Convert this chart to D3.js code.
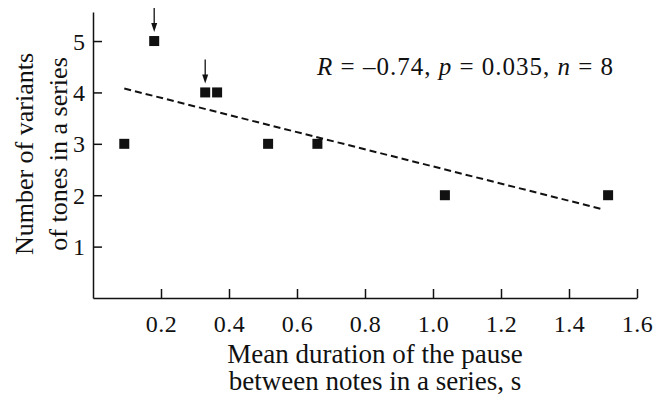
<!DOCTYPE html>
<html>
<head>
<meta charset="utf-8">
<script src="https://cdn.jsdelivr.net/npm/d3@7"></script>
<style>
  body { margin: 0; background: #fff; }
  svg text { font-family: "Liberation Serif", "Times New Roman", serif !important; fill: #111; }
</style>
</head>
<body>
<script>
// pause duration (s) vs number of tone variants
var pauseDur = [0.092, 0.18, 0.33, 0.365, 0.515, 0.66, 1.035, 1.515];
var toneVariants = [3, 5, 4, 4, 3, 3, 2, 2];
var xTicks = [0.2, 0.4, 0.6, 0.8, 1.0, 1.2, 1.4, 1.6];
var yTicks = [1, 2, 3, 4, 5];
var arrowIdx = [1, 2]; // points marked with arrows

var width = 661, height = 401;
var serif = "'Liberation Serif', 'Times New Roman', serif";

var svg = d3.select("body").append("svg")
    .attr("width", width)
    .attr("height", height)
    .attr("font-family", serif);

var x = d3.scaleLinear().domain([0, 1.6]).range([93, 637]);
var y = d3.scaleLinear().domain([0, 5.565]).range([298, 12]);

// axes
var xAxis = svg.append("g")
    .attr("transform", "translate(0," + y(0) + ")")
    .call(d3.axisBottom(x).tickValues(xTicks).tickSize(-9).tickSizeOuter(0)
        .tickFormat(d3.format(".1f")));
xAxis.attr("font-family", serif).attr("font-size", 24);
xAxis.selectAll("text")
    .attr("y", 34).attr("dy", 0)
    .attr("letter-spacing", "0.5px");

var yAxis = svg.append("g")
    .attr("transform", "translate(" + x(0) + ",0)")
    .call(d3.axisLeft(y).tickValues(yTicks).tickSize(-9).tickSizeOuter(0)
        .tickFormat(d3.format("d")));
yAxis.attr("font-family", serif).attr("font-size", 24);
yAxis.selectAll("text")
    .attr("x", -8).attr("dy", "0.34em");

svg.selectAll(".domain, .tick line")
    .attr("stroke", "#111")
    .attr("stroke-width", 1.5);
svg.selectAll(".tick text").attr("fill", "#111");

// least squares line over data range
var mx = d3.mean(pauseDur), my = d3.mean(toneVariants);
var sxy = d3.sum(pauseDur, function(d, i) { return (d - mx) * (toneVariants[i] - my); });
var sxx = d3.sum(pauseDur, function(d) { return (d - mx) * (d - mx); });
var slope = sxy / sxx, icpt = my - slope * mx;
var xr = d3.extent(pauseDur);

svg.append("line")
    .attr("x1", x(xr[0])).attr("y1", y(icpt + slope * xr[0]))
    .attr("x2", x(xr[1] - 0.012)).attr("y2", y(icpt + slope * (xr[1] - 0.012)))
    .attr("stroke", "#111")
    .attr("stroke-width", 2)
    .attr("stroke-dasharray", "7,4");

// points
var sq = 10;
svg.selectAll("rect.pt")
    .data(pauseDur)
    .enter()
    .append("rect")
    .attr("class", "pt")
    .attr("x", function(d) { return x(d) - sq / 2; })
    .attr("y", function(d, i) { return y(toneVariants[i]) - sq / 2; })
    .attr("width", sq)
    .attr("height", sq)
    .attr("fill", "#111");

// arrows
var arr = svg.selectAll("g.arrow")
    .data(arrowIdx)
    .enter()
    .append("g")
    .attr("class", "arrow")
    .attr("transform", function(i) {
        return "translate(" + x(pauseDur[i]) + "," + (y(toneVariants[i]) - sq / 2 - 4) + ")";
    });
arr.append("line")
    .attr("x1", 0).attr("x2", 0)
    .attr("y1", -24).attr("y2", -6)
    .attr("stroke", "#111")
    .attr("stroke-width", 1.3);
arr.append("path")
    .attr("d", "M0,0 L-3,-9 L3,-9 Z")
    .attr("fill", "#111");

// annotation
var ann = svg.append("text")
    .attr("x", 317).attr("y", 75)
    .attr("font-size", 25)
    .attr("letter-spacing", "1px");
ann.append("tspan").attr("font-style", "italic").text("R");
ann.append("tspan").text(" = –0.74, ");
ann.append("tspan").attr("font-style", "italic").text("p");
ann.append("tspan").text(" = 0.035, ");
ann.append("tspan").attr("font-style", "italic").text("n");
ann.append("tspan").text(" = 8");

// axis titles
var xt = svg.append("text")
    .attr("text-anchor", "middle")
    .attr("font-size", 27);
xt.append("tspan").attr("x", 375).attr("y", 363).text("Mean duration of the pause");
xt.append("tspan").attr("x", 375).attr("y", 390).text("between notes in a series, s");

var yt = svg.append("text")
    .attr("text-anchor", "middle")
    .attr("font-size", 26)
    .attr("transform", "translate(0,154) rotate(-90)");
yt.append("tspan").attr("x", 0).attr("y", 33).text("Number of variants");
yt.append("tspan").attr("x", 0).attr("y", 67).text("of tones in a series");
</script>
</body>
</html>
